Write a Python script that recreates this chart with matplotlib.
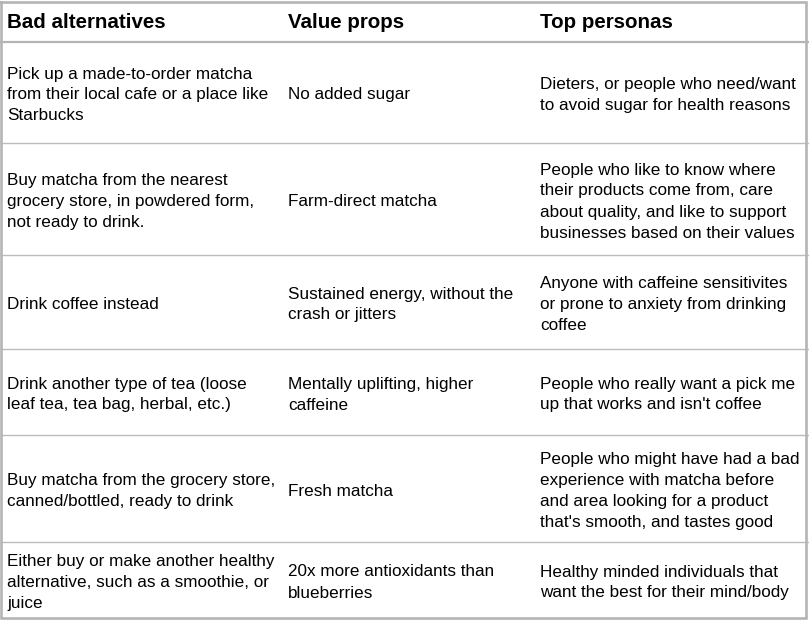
import matplotlib
matplotlib.use("Agg")
import matplotlib.pyplot as plt

# ---- data ----
headers = ["Bad alternatives", "Value props", "Top personas"]

bad_alternatives = [
    ["Pick up a made-to-order matcha", "from their local cafe or a place like", "Starbucks"],
    ["Buy matcha from the nearest", "grocery store, in powdered form,", "not ready to drink."],
    ["Drink coffee instead"],
    ["Drink another type of tea (loose", "leaf tea, tea bag, herbal, etc.)"],
    ["Buy matcha from the grocery store,", "canned/bottled, ready to drink"],
    ["Either buy or make another healthy", "alternative, such as a smoothie, or", "juice"],
]
value_props = [
    ["No added sugar"],
    ["Farm-direct matcha"],
    ["Sustained energy, without the", "crash or jitters"],
    ["Mentally uplifting, higher", "caffeine"],
    ["Fresh matcha"],
    ["20x more antioxidants than", "blueberries"],
]
top_personas = [
    ["Dieters, or people who need/want", "to avoid sugar for health reasons"],
    ["People who like to know where", "their products come from, care",
     "about quality, and like to support", "businesses based on their values"],
    ["Anyone with caffeine sensitivites", "or prone to anxiety from drinking", "coffee"],
    ["People who really want a pick me", "up that works and isn't coffee"],
    ["People who might have had a bad", "experience with matcha before",
     "and area looking for a product", "that's smooth, and tastes good"],
    ["Healthy minded individuals that", "want the best for their mind/body"],
]

# ---- layout ----
W, H = 809, 621
col_x = [7, 288, 540]
row_edges = [42, 143, 255, 349, 435, 542, 618]
line_step = 21
fs = 12.35
fs_head = 14.8
font = "Liberation Sans"
border_col = "#b4b4b4"
line_col = "#bcbcbc"
px = 0.72  # points per pixel at dpi 100

fig = plt.figure(figsize=(W / 100, H / 100), dpi=100)
ax = fig.add_axes([0, 0, 1, 1])
ax.set_xlim(0, W)
ax.set_ylim(H, 0)
ax.axis("off")

# header
for x, h in zip(col_x, headers):
    ax.text(x, 21 + 7.3, h, fontsize=fs_head, fontweight="bold", family=font,
            color="#000000", va="baseline", ha="left")

# header separator (thicker)
ax.plot([0, W], [42, 42], color=border_col, lw=2.2 * px, solid_capstyle="butt")
# row separators
for y in row_edges[1:-1]:
    ax.plot([0, W], [y, y], color=line_col, lw=1.4 * px, solid_capstyle="butt")

# outer border
ax.plot([1.5, 806.5, 806.5, 1.5, 1.5], [1.5, 1.5, 617.5, 617.5, 1.5],
        color=border_col, lw=2.6 * px, solid_joinstyle="miter")

columns = [bad_alternatives, value_props, top_personas]
for r in range(len(bad_alternatives)):
    yc = (row_edges[r] + row_edges[r + 1]) / 2 + 1
    for x, col in zip(col_x, columns):
        lines = col[r]
        n = len(lines)
        for i, s in enumerate(lines):
            y = yc + (i - (n - 1) / 2) * line_step
            ax.text(x, y + 6.0, s, fontsize=fs, family=font, color="#000000",
                    va="baseline", ha="left")

fig.savefig("out.png", dpi=100)
